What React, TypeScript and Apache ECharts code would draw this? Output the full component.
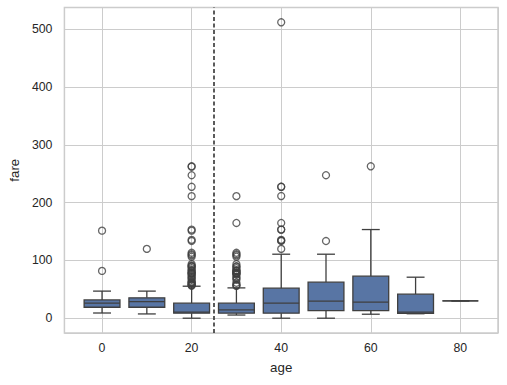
import React, { useEffect, useRef } from "react";
import * as echarts from "echarts";

// ---- data ----
const ageBins = [0, 10, 20, 30, 40, 50, 60, 70, 80];
const whiskerLow = [9, 7.4, 0, 5.5, 0, 0, 6.9, 7.75, 30];
const quartile1 = [19, 19, 8.7, 8.7, 8.7, 13.2, 13.2, 8.2, 30];
const medians = [26, 28.8, 10.5, 14.4, 26, 29.4, 27.7, 10.5, 30];
const quartile3 = [31.7, 35.2, 26, 26, 52, 62.3, 72.8, 41.6, 30];
const whiskerHigh = [46.9, 46.9, 55.4, 52.5, 110.8, 110.8, 153.5, 71, 30];

const outliers0 = [81.86, 151.55];
const outliers10 = [120];
const outliers20 = [
  56.5, 57, 57.98, 59.4, 61.18, 61.98, 63.36, 66.6, 69.3, 71, 73.5, 76.29, 77.29,
  78.85, 79.2, 82.17, 83.47, 86.5, 89.1, 90, 91.08, 93.5, 106.43, 108.9, 110.88,
  113.28, 133.65, 135.63, 151.55, 153.46, 211.34, 227.53, 247.52, 262.38, 263,
];
const outliers30 = [
  55.9, 56.93, 57.98, 61.38, 66.6, 69.3, 71.28, 75.25, 76.73, 77.96, 78.27, 79.65,
  81.86, 82.17, 83.16, 86.5, 89.1, 90, 93.5, 106.43, 108.9, 110.88, 113.28, 164.87,
  211.34,
];
const outliers40 = [120, 133.65, 134.5, 135.63, 153.46, 153.46, 164.87, 211.5, 227.53, 227.53, 512.33];
const outliers50 = [133.65, 247.52];
const outliers60 = [263];
const outliers70: number[] = [];
const outliers80: number[] = [];
const outlierGroups = [
  outliers0, outliers10, outliers20, outliers30, outliers40,
  outliers50, outliers60, outliers70, outliers80,
];

const dividerAge = 25;
const boxSpan = 8; // box width in age units
const xTickStep = 20;
const yTickStep = 100;

const LINE = "#3f3f3f";
const FILL = "#5875a4";
const TEXT = "#262626";
const GRIDC = "#cccccc";
const FONT = "'Liberation Sans', Arial, 'DejaVu Sans', sans-serif";

export default function App() {
  const ref = useRef<HTMLDivElement>(null);

  useEffect(() => {
    if (!ref.current) return;
    const chart = echarts.init(ref.current, undefined, { renderer: "svg" });

    const boxData = ageBins.map((a, i) => [
      a, whiskerLow[i], quartile1[i], medians[i], quartile3[i], whiskerHigh[i],
    ]);
    const outlierData: number[][] = [];
    outlierGroups.forEach((g, i) => g.forEach((v) => outlierData.push([ageBins[i], v])));

    const allMax = Math.max(...outlierData.map((d) => d[1]), ...whiskerHigh);
    const allMin = Math.min(...whiskerLow);
    const yPad = (allMax - allMin) * 0.05;
    const xLo = ageBins[0] - boxSpan / 2;
    const xHi = ageBins[ageBins.length - 1] + boxSpan / 2;
    const xPad = (xHi - xLo) * 0.05;

    const option: any = {
      animation: false,
      textStyle: { fontFamily: FONT },
      grid: {
        left: 62,
        right: 9,
        top: 7.5,
        bottom: 52,
        show: true,
        borderColor: GRIDC,
        borderWidth: 1.5,
        backgroundColor: "#ffffff",
      },
      xAxis: {
        type: "value",
        min: xLo - xPad,
        max: xHi + xPad,
        splitNumber: 5,
        name: "age",
        nameLocation: "middle",
        nameGap: 28,
        nameTextStyle: { color: TEXT, fontSize: 13.3, fontFamily: FONT },
        axisLine: { show: false },
        axisTick: { show: false },
        axisLabel: {
          color: TEXT,
          fontSize: 12.3,
          fontFamily: FONT,
          margin: 9,
          formatter: (v: number) =>
            Math.abs(v / xTickStep - Math.round(v / xTickStep)) < 1e-6 ? String(Math.round(v)) : "",
        },
        splitLine: {
          show: true,
          lineStyle: { color: GRIDC, width: 1 },
        },
      },
      yAxis: {
        type: "value",
        min: allMin - yPad,
        max: allMax + yPad,
        splitNumber: 5,
        name: "fare",
        nameLocation: "middle",
        nameGap: 42,
        nameTextStyle: { color: TEXT, fontSize: 13.3, fontFamily: FONT },
        axisLine: { show: false },
        axisTick: { show: false },
        axisLabel: {
          color: TEXT,
          fontSize: 12.3,
          fontFamily: FONT,
          margin: 12,
          formatter: (v: number) =>
            Math.abs(v / yTickStep - Math.round(v / yTickStep)) < 1e-6 ? String(Math.round(v)) : "",
        },
        splitLine: {
          show: true,
          lineStyle: { color: GRIDC, width: 1 },
        },
      },
      series: [
        {
          type: "custom",
          data: boxData,
          encode: { x: 0, y: [1, 2, 3, 4, 5] },
          renderItem: (params: any, api: any) => {
            const x = api.value(0);
            const lo = api.coord([x, api.value(1)]);
            const q1 = api.coord([x, api.value(2)]);
            const md = api.coord([x, api.value(3)]);
            const q3 = api.coord([x, api.value(4)]);
            const hi = api.coord([x, api.value(5)]);
            const w = api.size([boxSpan, 0])[0];
            const cx = lo[0];
            const capHalf = w / 4;
            const ls = { stroke: LINE, lineWidth: 1.3, fill: "none" };
            return {
              type: "group",
              children: [
                { type: "line", shape: { x1: cx, y1: q1[1], x2: cx, y2: lo[1] }, style: ls },
                { type: "line", shape: { x1: cx, y1: q3[1], x2: cx, y2: hi[1] }, style: ls },
                { type: "line", shape: { x1: cx - capHalf, y1: lo[1], x2: cx + capHalf, y2: lo[1] }, style: ls },
                { type: "line", shape: { x1: cx - capHalf, y1: hi[1], x2: cx + capHalf, y2: hi[1] }, style: ls },
                {
                  type: "rect",
                  shape: { x: cx - w / 2, y: q3[1], width: w, height: q1[1] - q3[1] },
                  style: { fill: FILL, stroke: LINE, lineWidth: 1.3 },
                },
                { type: "line", shape: { x1: cx - w / 2, y1: md[1], x2: cx + w / 2, y2: md[1] }, style: ls },
              ],
            };
          },
          z: 3,
        },
        {
          type: "scatter",
          data: outlierData,
          symbol: "circle",
          symbolSize: 7,
          itemStyle: { color: "rgba(0,0,0,0)", borderColor: LINE, borderWidth: 1.3 },
          z: 4,
          markLine: {
            silent: true,
            symbol: ["none", "none"],
            label: { show: false },
            lineStyle: { color: "#333333", type: [4, 2.5], width: 1.6 },
            data: [{ xAxis: dividerAge }],
          },
        },
      ],
    };

    chart.setOption(option);
    return () => chart.dispose();
  }, []);

  return (
    <div
      ref={ref}
      style={{ position: "fixed", left: 0, top: 0, width: 507, height: 385, background: "#ffffff" }}
    />
  );
}
